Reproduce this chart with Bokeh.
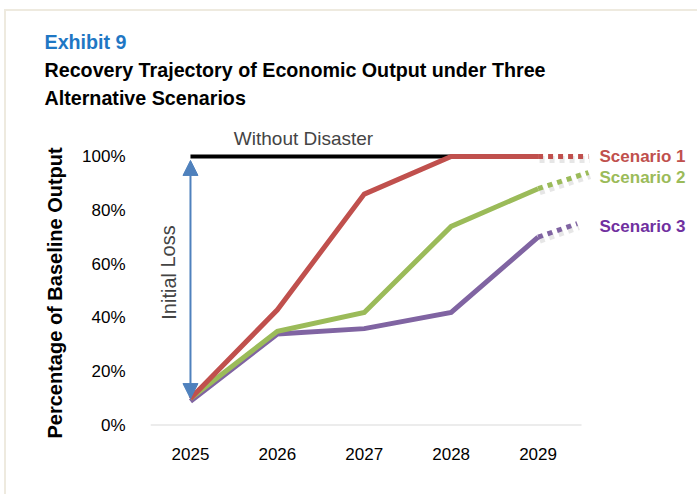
from bokeh.plotting import figure
from bokeh.models import (Label, Title, Arrow, NormalHead, FixedTicker, PrintfTickFormatter, Range1d)
from bokeh.core.properties import value
from bokeh.embed import file_html
from bokeh.resources import INLINE

FONT = "Liberation Sans"

years = [2025, 2026, 2027, 2028, 2029]
year_labels = ["2025", "2026", "2027", "2028", "2029"]
scenario1 = [10, 43, 86, 100, 100]
scenario2 = [10, 35, 42, 74, 88]
scenario3 = [9, 34, 36, 42, 70]
# dotted continuation beyond 2029 (x, value)
ext1 = [2029.58, 100]
ext2 = [2029.58, 94]
ext3 = [2029.45, 75]
scenario_names = ["Scenario 1", "Scenario 2", "Scenario 3"]
baseline = 100
initial_loss_top = 98.5
initial_loss_bottom = 10
y_ticks = [0, 20, 40, 60, 80, 100]

RED = "#c0504d"
GREEN = "#9bbb59"
PURPLE = "#8064a2"
PURPLE_TXT = "#7030a0"
BLUE = "#4f81bd"
PANEL = "#eeeadf"

OFF_X, OFF_Y = 6, 11          # panel border offset (page pixels)
W, H = 699 - OFF_X, 496 - OFF_Y
FL, FT, FB = 150, 129, 425    # frame edges in page pixels
PX_PER_YEAR = 86.9
PX_PER_PCT = 2.69
X0 = 2024.54
axis_end = years[-1] + 0.5
x_end = X0 + (699 - FL) / PX_PER_YEAR

p = figure(width=W, height=H, output_backend="svg", toolbar_location=None,
           x_range=Range1d(X0, x_end), y_range=Range1d(0, 110),
           min_border_left=FL - OFF_X, min_border_right=0, min_border_top=FT - OFF_Y,
           min_border_bottom=496 - FB)
p.styles = {"margin-left": "4px", "margin-top": "9px",
            "border-left": f"2px solid {PANEL}", "border-top": f"2px solid {PANEL}"}
p.outline_line_color = None
p.xgrid.visible = False
p.ygrid.visible = False

# spacer between the frame and the title block
p.add_layout(Title(text=" ", text_font_size="10px", standoff=6), "above")
# titles (stacked outward from the frame)
for txt, col in [("Alternative Scenarios", "black"),
                 ("Recovery Trajectory of Economic Output under Three", "black"),
                 ("Exhibit 9", "#1f77c4")]:
    p.add_layout(Title(text=txt, align="left", offset=44 - FL, text_color=col,
                       text_font=FONT, text_font_style="bold", text_font_size="19.7px",
                       standoff=4), "above")

# axes
p.xaxis.ticker = FixedTicker(ticks=years)
p.xaxis.major_label_overrides = {y: l for y, l in zip(years, year_labels)}
p.xaxis.axis_line_color = None
p.xaxis.major_tick_line_color = None
p.xaxis.minor_tick_line_color = None
p.xaxis.major_label_standoff = 16
p.xaxis.major_label_text_font = FONT
p.xaxis.major_label_text_font_size = "17px"
p.xaxis.major_label_text_color = "black"
# visible axis line only across the category span
p.segment(x0=[X0], x1=[axis_end], y0=[0], y1=[0], line_color="#d9d9d9", line_width=2)

p.yaxis.ticker = FixedTicker(ticks=y_ticks)
p.yaxis.formatter = PrintfTickFormatter(format="%d%%")
p.yaxis.axis_line_color = None
p.yaxis.major_tick_line_color = None
p.yaxis.minor_tick_line_color = None
p.yaxis.major_label_standoff = 19
p.yaxis.major_label_text_font = FONT
p.yaxis.major_label_text_font_size = "17px"
p.yaxis.major_label_text_color = "black"
p.yaxis.axis_label = None
p.add_layout(Title(text="Percentage of Baseline Output", align="left", offset=-13,
                   text_font=FONT, text_font_style="bold", text_font_size="20px",
                   text_color="black", standoff=28), "left")

# without disaster line
p.line([years[0], years[-1]], [baseline, baseline], line_color="black", line_width=4)

# scenarios
series = [(scenario3, ext3, PURPLE), (scenario2, ext2, GREEN), (scenario1, ext1, RED)]
sdx, sdy = 1.5 / PX_PER_YEAR, -3 / PX_PER_PCT   # soft shadow behind the projections
for vals, ext, col in series:
    p.line([years[-1] + sdx, ext[0] + sdx], [vals[-1] + sdy, ext[1] + sdy], line_color="#9a9a9a",
           line_alpha=0.25, line_width=7, line_dash="5 5", line_cap="butt")
for vals, ext, col in series:
    p.line(years, vals, line_color=col, line_width=5, line_join="miter")
    p.line([years[-1], ext[0]], [vals[-1], ext[1]], line_color=col, line_width=5,
           line_dash="5 5", line_cap="butt")

# scenario labels to the right of the dotted ends
label_x = axis_end + 18 / PX_PER_YEAR
for name, ext, col, dy in [(scenario_names[0], ext1, RED, 0),
                           (scenario_names[1], ext2, GREEN, 5),
                           (scenario_names[2], ext3, PURPLE_TXT, 3)]:
    p.text(x=[label_x], y=[ext[1]], text=[name], text_color=col, y_offset=dy,
           text_font=value(FONT), text_font_style="bold", text_font_size="17px",
           text_baseline="middle", text_align="left")

# initial loss arrow
p.add_layout(Arrow(x_start=years[0], y_start=initial_loss_bottom, x_end=years[0], y_end=initial_loss_top,
                   line_color=BLUE, line_width=2,
                   start=NormalHead(size=15, fill_color=BLUE, line_color=BLUE),
                   end=NormalHead(size=15, fill_color=BLUE, line_color=BLUE)))

def lab(text, x, y, **kw):
    """x, y: page pixels from top-left; converted to frame-relative screen units."""
    kw.setdefault("text_font", FONT)
    kw.setdefault("text_font_size", "16px")
    p.add_layout(Label(x=x - FL, y=FB - y, x_units="screen", y_units="screen", text=text, **kw))

lab("Without Disaster", 303, 138, text_align="center", text_baseline="middle", text_font_size="19px")
lab("Initial Loss", 168, 272, angle=1.5708, text_align="center", text_baseline="middle",
    text_font_size="20px")

open("out.html", "w").write(file_html(p, INLINE))
